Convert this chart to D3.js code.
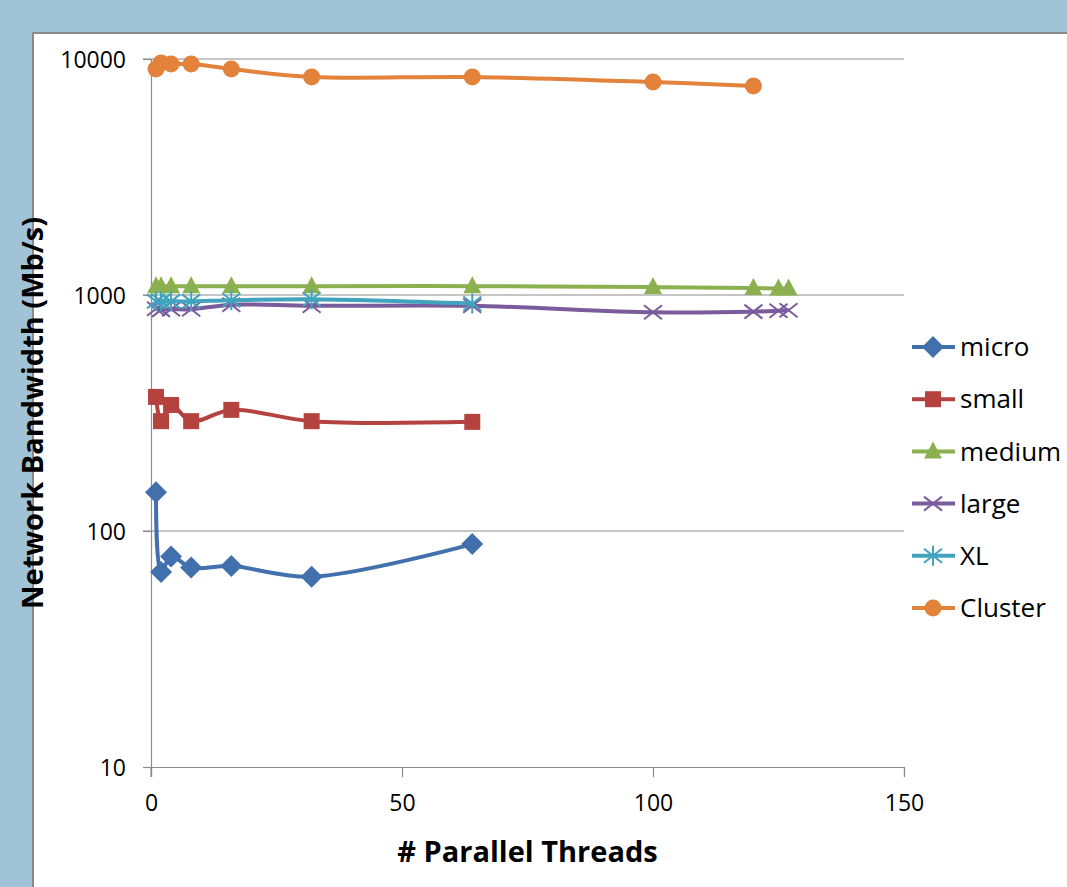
<!DOCTYPE html>
<html>
<head>
<meta charset="utf-8">
<script src="https://cdn.jsdelivr.net/npm/d3@7"></script>
<style>
  body { margin: 0; background: #a0c3d8; }
  svg { display: block; }
  text { font-family: "Open Sans", Lato, sans-serif; fill: #000; }
</style>
</head>
<body>
<div class="graphic"></div>
<script>
var width = 1067;
var height = 887;

// data
var seriesNames = ["micro", "small", "medium", "large", "XL", "Cluster"];
var microX = [1, 2, 4, 8, 16, 32, 64];
var microY = [146, 67, 78, 70, 71, 64, 88];
var smallX = [1, 2, 4, 8, 16, 32, 64];
var smallY = [370, 292, 342, 292, 326, 292, 290];
var mediumX = [1, 2, 4, 8, 16, 32, 64, 100, 120, 125, 127];
var mediumY = [1090, 1090, 1090, 1090, 1090, 1090, 1090, 1080, 1070, 1065, 1065];
var largeX = [1, 2, 4, 8, 16, 32, 64, 100, 120, 125, 127];
var largeY = [875, 865, 870, 870, 910, 900, 900, 845, 850, 858, 862];
var xlX = [1, 2, 4, 8, 16, 32, 64];
var xlY = [940, 940, 940, 940, 950, 960, 920];
var clusterX = [1, 2, 4, 8, 16, 32, 64, 100, 120];
var clusterY = [9070, 9620, 9520, 9520, 9070, 8390, 8390, 7990, 7690];

var xTicks = [0, 50, 100, 150];
var yTicks = [10, 100, 1000, 10000];

var colors = ["#4270ad", "#b4433f", "#8bb050", "#7a5c9d", "#41a3bd", "#e3823a"];
var markers = ["diamond", "square", "triangle", "cross", "star", "circle"];

var series = [
	{name: "micro", xs: microX, ys: microY},
	{name: "small", xs: smallX, ys: smallY},
	{name: "medium", xs: mediumX, ys: mediumY},
	{name: "large", xs: largeX, ys: largeY},
	{name: "XL", xs: xlX, ys: xlY},
	{name: "Cluster", xs: clusterX, ys: clusterY}
];

var svg = d3.select("div.graphic").append("svg")
	.attr("width", width)
	.attr("height", height);

// white chart panel
svg.append("rect")
	.attr("x", 33).attr("y", 33)
	.attr("width", 1100).attr("height", 900)
	.attr("fill", "#fff")
	.attr("stroke", "#898989")
	.attr("stroke-width", 2);

var x = d3.scaleLinear().domain([0, 150]).range([151, 904]);
var y = d3.scaleLog().domain([10, 10000]).range([767, 59]);

// gridlines
svg.append("g").selectAll("line")
	.data(yTicks.slice(1))
	.enter()
	.append("line")
	.attr("x1", 143).attr("x2", 904)
	.attr("y1", function(d){ return y(d); })
	.attr("y2", function(d){ return y(d); })
	.attr("stroke", "#8c8c8c")
	.attr("stroke-width", 1.2);

var xAxis = svg.append("g")
	.attr("transform", "translate(0," + y(10) + ")")
	.call(d3.axisBottom(x).tickValues(xTicks).tickSize(10).tickPadding(18));
var yAxis = svg.append("g")
	.attr("transform", "translate(" + x(0) + ",0)")
	.call(d3.axisLeft(y).tickValues(yTicks).tickFormat(d3.format("d")).tickSize(8).tickPadding(17));

[xAxis, yAxis].forEach(function(ax){
	ax.select(".domain").attr("stroke", "#8c8c8c").attr("stroke-width", 1.2);
	ax.selectAll(".tick line").attr("stroke", "#8c8c8c").attr("stroke-width", 1.2);
	ax.selectAll(".tick text")
		.style("font-family", "'Open Sans', sans-serif")
		.style("font-size", "23px")
		.attr("fill", "#000");
});
// y axis continues down to the x tick length
svg.append("line")
	.attr("x1", x(0)).attr("x2", x(0))
	.attr("y1", y(10)).attr("y2", y(10) + 10)
	.attr("stroke", "#8c8c8c").attr("stroke-width", 1.2);
yAxis.selectAll(".tick text").attr("dy", "0.35em");

// axis titles
svg.append("text")
	.attr("x", (x(0) + x(150)) / 2)
	.attr("y", 862)
	.attr("text-anchor", "middle")
	.style("font-size", "29px")
	.style("font-weight", "bold")
	.text("# Parallel Threads");

svg.append("text")
	.attr("transform", "translate(43," + (y(10) + y(10000)) / 2 + ") rotate(-90)")
	.attr("text-anchor", "middle")
	.style("font-size", "29px")
	.style("font-weight", "bold")
	.text("Network Bandwidth (Mb/s)");

function drawMarker(g, type, color){
	if (type == "diamond"){
		g.append("path").attr("d", "M0,-11L11,0L0,11L-11,0Z").attr("fill", color);
	} else if (type == "square"){
		g.append("rect").attr("x", -8).attr("y", -8).attr("width", 16).attr("height", 16).attr("fill", color);
	} else if (type == "triangle"){
		g.append("path").attr("d", "M0,-10L9,7L-9,7Z").attr("fill", color);
	} else if (type == "cross"){
		g.append("path").attr("d", "M-9,-7L9,7M-9,7L9,-7").attr("stroke", color).attr("stroke-width", 2);
	} else if (type == "star"){
		g.append("path").attr("d", "M-9,-7L9,7M-9,7L9,-7M0,-10L0,10").attr("stroke", color).attr("stroke-width", 2);
	} else {
		g.append("circle").attr("r", 8.5).attr("fill", color);
	}
}

var line = d3.line()
	.x(function(d){ return x(d[0]); })
	.y(function(d){ return y(d[1]); })
	.curve(d3.curveCatmullRom.alpha(0.5));

var plot = svg.append("g");
series.forEach(function(s, i){
	var pts = s.xs.map(function(v, j){ return [v, s.ys[j]]; });
	var g = plot.append("g");
	g.append("path")
		.datum(pts)
		.attr("d", line)
		.attr("fill", "none")
		.attr("stroke", colors[i])
		.attr("stroke-width", 4)
		.attr("stroke-linejoin", "round");
	g.selectAll("g.mark")
		.data(pts)
		.enter()
		.append("g")
		.attr("class", "mark")
		.attr("transform", function(d){ return "translate(" + x(d[0]) + "," + y(d[1]) + ")"; })
		.each(function(){ drawMarker(d3.select(this), markers[i], colors[i]); });
});

// legend
var legend = svg.append("g");
seriesNames.forEach(function(name, i){
	var ly = 347 + i * 52.2;
	var lg = legend.append("g").attr("transform", "translate(0," + ly + ")");
	lg.append("line")
		.attr("x1", 912).attr("x2", 955)
		.attr("y1", 0).attr("y2", 0)
		.attr("stroke", colors[i]).attr("stroke-width", 4);
	var m = lg.append("g").attr("transform", "translate(933,0)");
	drawMarker(m, markers[i], colors[i]);
	lg.append("text")
		.attr("x", 960).attr("y", 0)
		.attr("dy", "0.35em")
		.style("font-size", "26px")
		.text(name);
});
</script>
</body>
</html>
